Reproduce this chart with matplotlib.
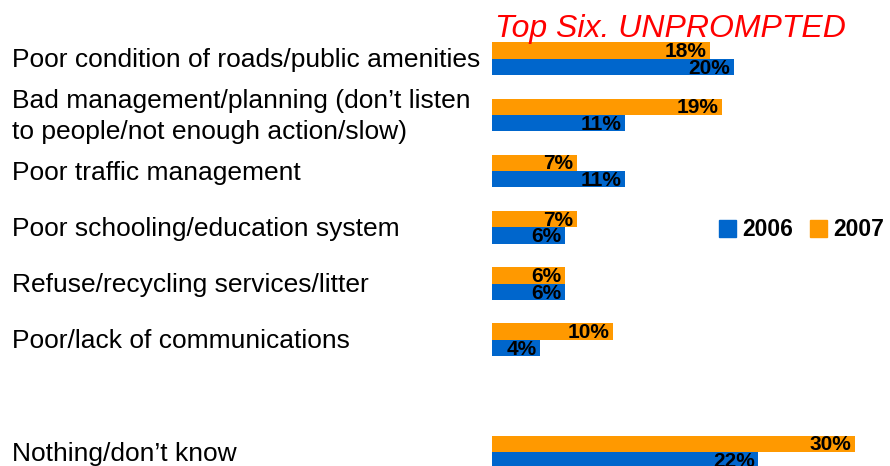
import matplotlib.pyplot as plt
from matplotlib.patches import Patch
from matplotlib.transforms import blended_transform_factory

plt.rcParams['font.family'] = ['Liberation Sans', 'DejaVu Sans']

categories = [
    'Poor condition of roads/public amenities',
    'Bad management/planning (don\u2019t listen\nto people/not enough action/slow)',
    'Poor traffic management',
    'Poor schooling/education system',
    'Refuse/recycling services/litter',
    'Poor/lack of communications',
    'Nothing/don\u2019t know',
]
# slot of each row on the y axis (one empty slot before the last row)
slots = [0, 1, 2, 3, 4, 5, 7]
values_2006 = [20, 11, 11, 6, 6, 4, 22]
values_2007 = [18, 19, 7, 7, 6, 10, 30]

BLUE = '#0066CC'
ORANGE = '#FF9900'
bar_h = 0.29

fig = plt.figure(figsize=(8.9, 4.66), dpi=100)
ax = fig.add_axes([492 / 890, 0, 1 - 492 / 890, 1])
ax.set_xlim(0, (890 - 492) / 12.1)
ax.set_ylim(7.247, -1.045)
ax.axis('off')

# 2007 sits above the row line, 2006 below it
ax.barh([s - bar_h for s in slots], values_2007, height=bar_h, align='edge',
        color=ORANGE, zorder=2)
ax.barh(slots, values_2006, height=bar_h, align='edge', color=BLUE, zorder=2)

for s, v6, v7 in zip(slots, values_2006, values_2007):
    ax.text(v7 - 0.3, s - 0.03, f'{v7}%', ha='right', va='baseline',
            fontsize=15, fontweight='bold', zorder=3)
    ax.text(v6 - 0.3, s + bar_h - 0.02, f'{v6}%', ha='right', va='baseline',
            fontsize=15, fontweight='bold', zorder=3)

# category names on the left
trans = blended_transform_factory(fig.transFigure, ax.transData)
for s, name in zip(slots, categories):
    if '\n' in name:
        ax.text(12 / 890, s + 0.03, name, transform=trans, ha='left',
                va='center', fontsize=19, linespacing=1.38)
    else:
        ax.text(12 / 890, s + 0.15, name, transform=trans, ha='left',
                va='baseline', fontsize=19)

fig.text(495 / 890, 1 - 37 / 466, 'Top Six. UNPROMPTED', color='#FF0000',
         fontsize=23, fontstyle='italic', ha='left', va='baseline')

handles = [Patch(color=BLUE, label='2006'), Patch(color=ORANGE, label='2007')]
fig.legend(handles=handles, loc='center left',
           bbox_to_anchor=(719 / 890, 1 - 230 / 466), ncol=2, frameon=False,
           handlelength=0.74, handleheight=0.74, handletextpad=0.28,
           columnspacing=0.72, borderaxespad=0, borderpad=0,
           prop={'size': 16.5, 'weight': 'bold'})

fig.savefig('out.png', dpi=100)
